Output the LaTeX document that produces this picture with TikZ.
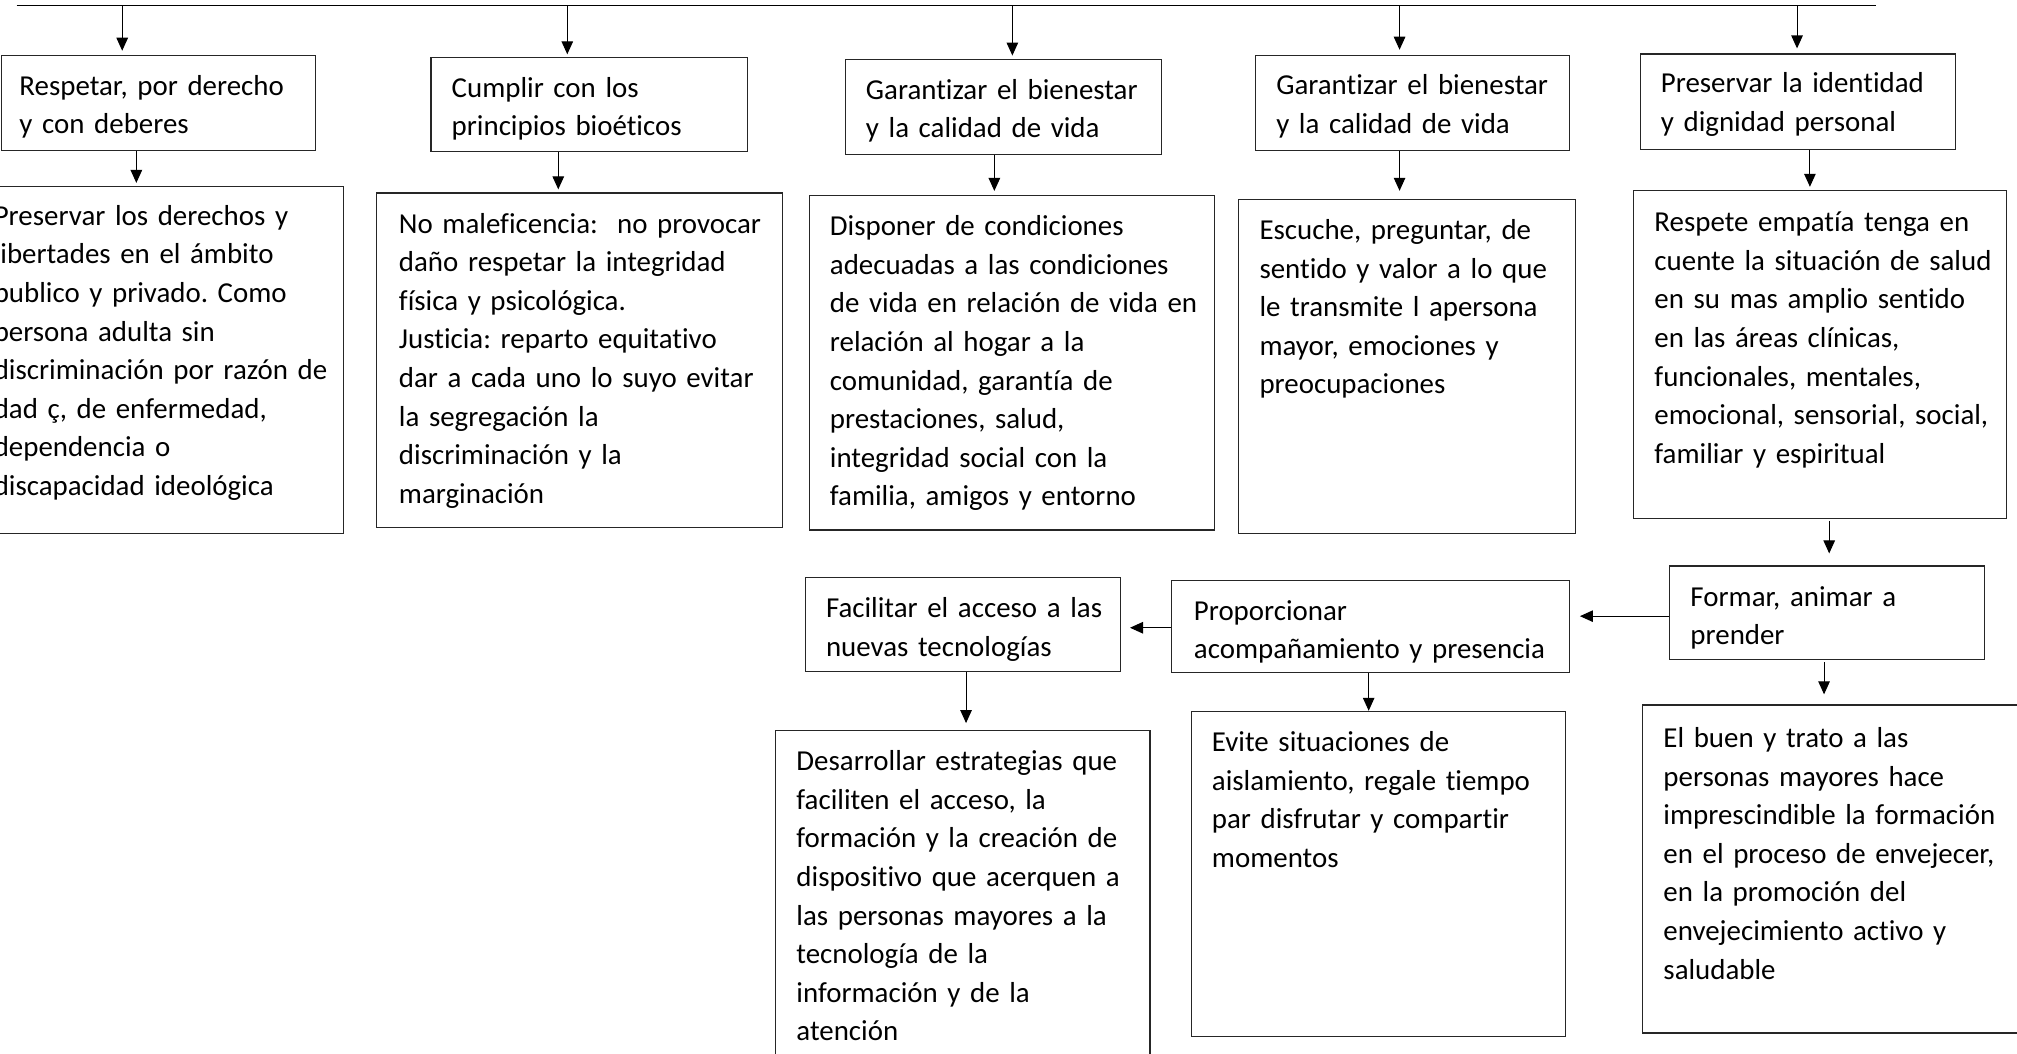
\documentclass[tikz,border=0pt]{standalone}
\usepackage{fontspec}
\setmainfont[Ligatures={NoCommon},WordSpace=0.93]{Carlito}
\usetikzlibrary{arrows.meta,fit}
\begin{document}
\frenchspacing
\begin{tikzpicture}[x=1.2864pt,y=-1.2864pt,
  box/.style={draw=black!85, line width=1.15pt, inner sep=0pt},
  txt/.style={anchor=north west, inner sep=0pt, align=left, text width=600pt,
    font=\fontsize{28.9}{38.6}\selectfont\frenchspacing},
  arr/.style={line width=1.1pt, -{Triangle[length=13pt,width=11.5pt]}},
  topline/.style={line width=1.1pt}]
\useasboundingbox (0,0) rectangle (1568,819);
% boxes
\node[box, fit={(1,43) (245,117)}] (b1) {};
\node[box, fit={(335,45) (581,118)}] (b2) {};
\node[box, fit={(657,46) (903,120)}] (b3) {};
\node[box, fit={(976,43) (1220,117)}] (b4) {};
\node[box, fit={(1275,42) (1520,116)}] (b5) {};
\node[box, fit={(-10,145) (267,415)}] (c1) {};
\node[box, fit={(293,150) (608,410)}] (c2) {};
\node[box, fit={(629,152) (944,412)}] (c3) {};
\node[box, fit={(963,155) (1225,415)}] (c4) {};
\node[box, fit={(1270,148) (1560,403)}] (c5) {};
\node[box, fit={(1298,440) (1543,513)}] (d1) {};
\node[box, fit={(911,451) (1220,523)}] (d2) {};
\node[box, fit={(626,449) (871,522)}] (d3) {};
\node[box, fit={(603,568) (894,830)}] (e3) {};
\node[box, fit={(926,553) (1217,806)}] (e2) {};
\node[box, fit={(1277,548) (1580,803)}] (e1) {};
% texts
\node[txt] (tb1) at (15,53) {\strut Respetar, por derecho\\y con deberes};
\node[txt] (tb2) at (351,54.5) {\strut Cumplir con los\\principios bioéticos};
\node[txt] (tb3) at (673,56) {\strut Garantizar el bienestar\\y la calidad de vida};
\node[txt] (tb4) at (992,52.5) {\strut Garantizar el bienestar\\y la calidad de vida};
\node[txt] (tb5) at (1291,51) {\strut Preservar la identidad\\y dignidad personal};
\node[txt] (tc1) at (-5,154) {\strut Preservar los derechos y\\libertades en el ámbito\\publico y privado. Como\\persona adulta sin\\discriminación por razón de\\dad ç, de enfermedad,\\dependencia o\\discapacidad ideológica};
\node[txt] (tc2) at (310,160) {\strut No maleficencia:\ \ no provocar\\daño respetar la integridad\\física y psicológica.\\Justicia: reparto equitativo\\dar a cada uno lo suyo evitar\\la segregación la\\discriminación y la\\marginación};
\node[txt] (tc3) at (645,162) {\strut Disponer de condiciones\\adecuadas a las condiciones\\de vida en relación de vida en\\relación al hogar a la\\comunidad, garantía de\\prestaciones, salud,\\integridad social con la\\familia, amigos y entorno};
\node[txt] (tc4) at (979,165) {\strut Escuche, preguntar, de\\sentido y valor a lo que\\le transmite l apersona\\mayor, emociones y\\preocupaciones};
\node[txt] (tc5) at (1286,159) {\strut Respete empatía tenga en\\cuente la situación de salud\\en su mas amplio sentido\\en las áreas clínicas,\\funcionales, mentales,\\emocional, sensorial, social,\\familiar y espiritual};
\node[txt] (td1) at (1314,450) {\strut Formar, animar a\\prender};
\node[txt] (td2) at (928,461) {\strut Proporcionar\\acompañamiento y presencia};
\node[txt] (td3) at (642,459) {\strut Facilitar el acceso a las\\nuevas tecnologías};
\node[txt] (te3) at (619,578) {\strut Desarrollar estrategias que\\faciliten el acceso, la\\formación y la creación de\\dispositivo que acerquen a\\las personas mayores a la\\tecnología de la\\información y de la\\atención};
\node[txt] (te2) at (942,563) {\strut Evite situaciones de\\aislamiento, regale tiempo\\par disfrutar y compartir\\momentos};
\node[txt] (te1) at (1293,560) {\strut El buen y trato a las\\personas mayores hace\\imprescindible la formación\\en el proceso de envejecer,\\en la promoción del\\envejecimiento activo y\\saludable};
% top line
\coordinate (L) at (13,4);
\coordinate (R) at (1458,4);
\draw[topline] (L) -- (R);
\coordinate (t1) at (95,4);
\coordinate (t2) at (441,4);
\coordinate (t3) at (787,4);
\coordinate (t4) at (1088,4);
\coordinate (t5) at (1397,4);
\draw[arr, shorten >=4pt] (t1) -- (t1 |- b1.north);
\draw[arr, shorten >=3pt] (t2) -- (t2 |- b2.north);
\draw[arr, shorten >=3pt] (t3) -- (t3 |- b3.north);
\draw[arr, shorten >=5pt] (t4) -- (t4 |- b4.north);
\draw[arr, shorten >=5pt] (t5) -- (t5 |- b5.north);
% vertical connectors
\coordinate (v1) at (106,0);
\coordinate (v2) at (434,0);
\coordinate (v3) at (773,0);
\coordinate (v4) at (1088,0);
\coordinate (v5) at (1407,0);
\coordinate (v6) at (1422,0);
\coordinate (v7) at (751,0);
\coordinate (v8) at (1064,0);
\coordinate (v9) at (1418,0);
\draw[arr, shorten >=3pt] (v1 |- b1.south) -- (v1 |- c1.north);
\draw[arr, shorten >=3pt] (v2 |- b2.south) -- (v2 |- c2.north);
\draw[arr, shorten >=4pt] (v3 |- b3.south) -- (v3 |- c3.north);
\draw[arr, shorten >=8pt] (v4 |- b4.south) -- (v4 |- c4.north);
\draw[arr, shorten >=3pt] (v5 |- b5.south) -- (v5 |- c5.north);
\draw[arr, shorten <=2pt, shorten >=12pt] (v6 |- c5.south) -- (v6 |- d1.north);
\draw[arr, shorten >=7pt] (v7 |- d3.south) -- (v7 |- e3.north);
\draw[arr] (v8 |- d2.south) -- (v8 |- e2.north);
\draw[arr, shorten <=2pt, shorten >=10pt] (v9 |- d1.south) -- (v9 |- e1.north);
% horizontal connectors
\coordinate (h1) at (0,479);
\coordinate (h2) at (0,488);
\draw[arr, shorten >=10pt] (h1 -| d1.west) -- (h1 -| d2.east);
\draw[arr, shorten >=9pt] (h2 -| d2.west) -- (h2 -| d3.east);
\end{tikzpicture}
\end{document}
